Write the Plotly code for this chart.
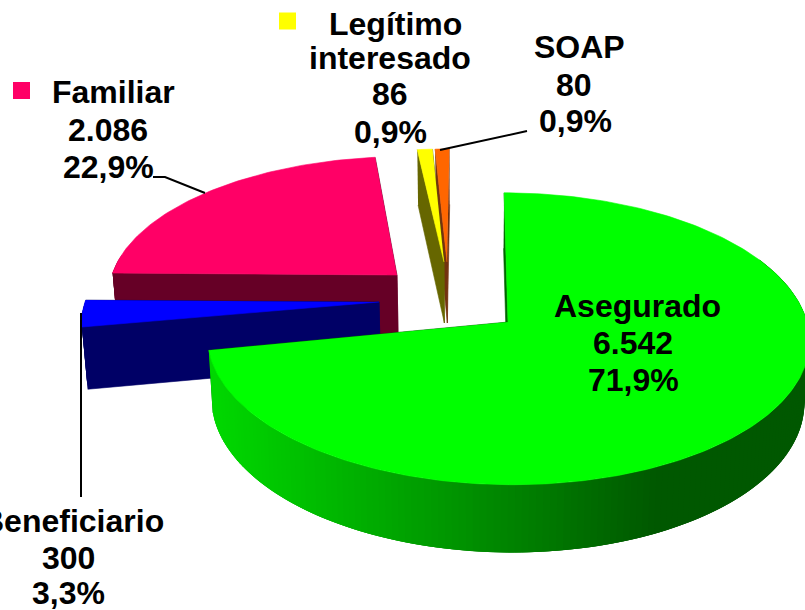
import numpy as np
import plotly.graph_objects as go

# --- data -------------------------------------------------------------
categories = ["Asegurado", "Beneficiario", "Familiar", "Legítimo interesado", "SOAP"]
values = [6542, 300, 2086, 86, 80]
value_labels = ["6.542", "300", "2.086", "86", "80"]
percent_labels = ["71,9%", "3,3%", "22,9%", "0,9%", "0,9%"]

# --- style / layout ---------------------------------------------------
top_colors = ["#00FF00", "#0000FF", "#FF0066", "#FFFF00", "#FF6600"]
wall_colors = ["#006600", "#000066", "#660026", "#666600", "#73320F"]
apex = [(508, 322), (379, 302), (397, 275), (444, 262), (447, 262)]   # exploded slice tips
radius_x = [299, 294, 285, 286, 286]
radius_y = [144, 128, 132, 126, 126]
draw_order = [2, 4, 3, 1, 0]
K, VX, DEPTH = 0.115, 470.0, 61.0
# (x, y) of each text line: category word(s), value, percentage
label_pos = [
    [(637, 306), (633, 343), (633, 380)],
    [(72, 521), (68, 558), (68, 593)],
    [(113, 92), (108, 130), (108, 167)],
    [(395, 24), (390, 58), (390, 94), (390, 132)],
    [(579, 47), (574, 85), (575, 121)],
]
leaders = [
    ([153, 165, 205], [177, 177, 193]),
    ([527, 440], [131, 150]),
    ([81, 81], [313, 497]),
]
legend_keys = [(2, 21.5, 90.5), (3, 287.5, 21)]

shares = np.array(values, float) / sum(values)
edges = np.concatenate([[0], np.cumsum(shares)]) * 2 * np.pi


def project(i, r, th, low=False):
    """Slice i: polar point (r, th clockwise from top) -> screen, perspective."""
    ax, ay = apex[i]
    X, Y = r * np.sin(th), r * np.cos(th)
    s = 1 / (1 + K * Y)
    sx = VX + (ax - VX + radius_x[i] * X) * s
    sy = ay - radius_y[i] * Y * s
    if low:
        d = DEPTH / (1 + 0.1 * Y)
        sx = VX + (sx - VX) * 0.985
        sy = sy + d
    return sx, sy


fig = go.Figure()


def poly(x, y, color, lw=0.6):
    fig.add_trace(go.Scatter(x=list(x), y=list(y), mode="lines", fill="toself",
                             fillcolor=color, line=dict(color=color, width=lw),
                             hoverinfo="skip", showlegend=False))


def side_color(x):
    t = np.clip((x - 212) / (644 - 212), 0, 1)
    return f"rgb(0,{int(round(215 - 127 * t))},0)"


for i in draw_order:
    t0, t1 = edges[i], edges[i + 1]

    def radial(th):
        p, q = project(i, 1, th), project(i, 0, th)
        pl, ql = project(i, 1, th, True), project(i, 0, th, True)
        poly([p[0], q[0], ql[0], pl[0]], [p[1], q[1], ql[1], pl[1]], wall_colors[i])

    radial(t1)
    # outer curved wall, front part only, shaded in overlapping strips
    a = max(t0, np.pi * 0.35)
    b = min(t1, np.pi * 1.55)
    if b > a:
        grid = np.linspace(a, b, max(2, int((b - a) / np.radians(1.2)) + 1))
        # each strip reaches back under its neighbour so no seams show
        for k in range(len(grid) - 1):
            g0, g1 = grid[max(k - 2, 0)], grid[k + 1]
            mid = project(i, 1, (grid[k] + grid[k + 1]) / 2)
            arc = np.linspace(g0, g1, 4)
            ux, uy = project(i, 1, arc)
            lx, ly = project(i, 1, arc[::-1], True)
            col = side_color(mid[0]) if i == 0 else wall_colors[i]
            poly(np.r_[ux, lx], np.r_[uy, ly], col, lw=0)
    radial(t0)
    # top face
    th = np.linspace(t0, t1, max(6, int((t1 - t0) / np.radians(1)) + 1))
    xs, ys = project(i, 1, th)
    tip = project(i, 0, t0)
    poly(np.r_[tip[0], xs], np.r_[tip[1], ys], top_colors[i])

for lx, ly in leaders:
    fig.add_trace(go.Scatter(x=lx, y=ly, mode="lines", line=dict(color="black", width=2),
                             hoverinfo="skip", showlegend=False))

for i, kx, ky in legend_keys:
    fig.add_trace(go.Scatter(x=[kx], y=[ky], mode="markers",
                             marker=dict(symbol="square", size=17, color=top_colors[i]),
                             hoverinfo="skip", showlegend=False))

for i, pos in enumerate(label_pos):
    lines = categories[i].split(" ") + [value_labels[i], percent_labels[i]]
    for text, (x, y) in zip(lines, pos):
        fig.add_annotation(x=x, y=y, text=f"<b>{text}</b>", showarrow=False,
                           xanchor="center", yanchor="middle",
                           font=dict(family="Liberation Sans", size=32, color="black"))

fig.update_layout(
    width=805, height=610, autosize=False, margin=dict(l=0, r=0, t=0, b=0),
    paper_bgcolor="white", plot_bgcolor="white", showlegend=False,
    xaxis=dict(range=[0, 805], visible=False, fixedrange=True),
    yaxis=dict(range=[610, 0], visible=False, fixedrange=True),
)
fig.write_html("out.html", config={"displayModeBar": False},
               post_script="document.body.style.margin='0';document.body.style.overflow='hidden';")
